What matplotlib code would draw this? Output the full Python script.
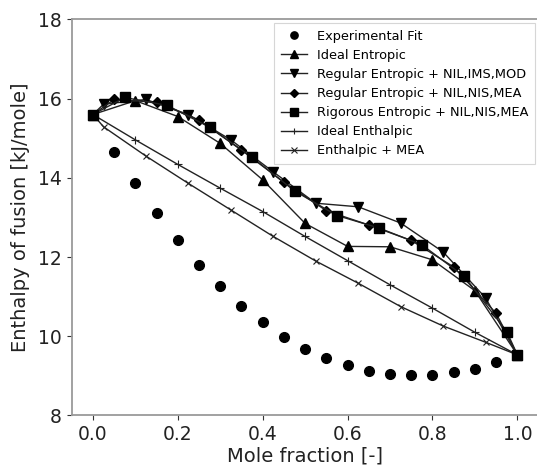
import matplotlib
matplotlib.use("Agg")
import matplotlib.pyplot as plt

# Experimental fit
x_exp = [0.05, 0.10, 0.15, 0.20, 0.25, 0.30, 0.35, 0.40, 0.45, 0.50,
         0.55, 0.60, 0.65, 0.70, 0.75, 0.80, 0.85, 0.90, 0.95]
y_exp = [14.66, 13.86, 13.12, 12.43, 11.81, 11.27, 10.77, 10.36, 9.99, 9.69,
         9.46, 9.28, 9.13, 9.04, 9.02, 9.02, 9.09, 9.18, 9.35]

# Ideal entropic
x_ie = [0.0, 0.1, 0.2, 0.3, 0.4, 0.5, 0.6, 0.7, 0.8, 0.9, 1.0]
y_ie = [15.60, 15.95, 15.55, 14.87, 13.95, 12.85, 12.27, 12.26, 11.93, 11.15, 9.53]

# Regular entropic + NIL,IMS,MOD
x_re1 = [0.0, 0.025, 0.125, 0.225, 0.325, 0.425, 0.525, 0.625, 0.725, 0.825, 0.925, 1.0]
y_re1 = [15.60, 15.86, 15.98, 15.60, 14.96, 14.15, 13.36, 13.27, 12.86, 12.13, 10.97, 9.53]

# Regular entropic + NIL,NIS,MEA
x_re2 = [0.0, 0.05, 0.15, 0.25, 0.35, 0.45, 0.55, 0.65, 0.75, 0.85, 0.95, 1.0]
y_re2 = [15.60, 15.98, 15.91, 15.46, 14.70, 13.89, 13.17, 12.81, 12.42, 11.75, 10.58, 9.53]

# Rigorous entropic + NIL,NIS,MEA
x_rig = [0.0, 0.075, 0.175, 0.275, 0.375, 0.475, 0.575, 0.675, 0.775, 0.875, 0.975, 1.0]
y_rig = [15.60, 16.03, 15.83, 15.28, 14.52, 13.67, 13.05, 12.73, 12.31, 11.51, 10.12, 9.53]

# Ideal enthalpic
x_ih = [0.0, 0.1, 0.2, 0.3, 0.4, 0.5, 0.6, 0.7, 0.8, 0.9, 1.0]
y_ih = [15.60, 14.96, 14.34, 13.74, 13.15, 12.52, 11.91, 11.30, 10.71, 10.10, 9.53]

# Enthalpic + MEA
x_em = [0.0, 0.025, 0.125, 0.225, 0.325, 0.425, 0.525, 0.625, 0.725, 0.825, 0.925, 1.0]
y_em = [15.60, 15.29, 14.55, 13.86, 13.19, 12.52, 11.90, 11.34, 10.75, 10.26, 9.85, 9.53]

x_ticks = [0.0, 0.2, 0.4, 0.6, 0.8, 1.0]
y_ticks = [8, 10, 12, 14, 16, 18]

fig = plt.figure(figsize=(5.37, 4.66), dpi=100)
ax = fig.add_axes([0.1335, 0.1084, 0.8695, 0.8498])

lc = "#222222"
lw = 1.0
inner = slice(1, -1)

ax.plot(x_exp, y_exp, linestyle="none", marker="o", color="black",
        markersize=7, label="Experimental Fit", zorder=3)
ax.plot(x_ie, y_ie, color=lc, lw=lw, marker="^", markersize=7.5,
        markerfacecolor="black", markeredgecolor="black",
        label="Ideal Entropic", zorder=2)
ax.plot(x_re1, y_re1, color=lc, lw=lw, marker="v", markersize=7.5,
        markevery=inner, markerfacecolor="black", markeredgecolor="black",
        label="Regular Entropic + NIL,IMS,MOD", zorder=2)
ax.plot(x_re2, y_re2, color=lc, lw=lw, marker="D", markersize=5.5,
        markevery=inner, markerfacecolor="black", markeredgecolor="black",
        label="Regular Entropic + NIL,NIS,MEA", zorder=2)
ax.plot(x_rig, y_rig, color=lc, lw=lw, marker="s", markersize=7.5,
        markerfacecolor="black", markeredgecolor="black",
        label="Rigorous Entropic + NIL,NIS,MEA", zorder=4)
ax.plot(x_ih, y_ih, color=lc, lw=lw, marker="+", markersize=6,
        markeredgewidth=0.8, label="Ideal Enthalpic", zorder=1)
ax.plot(x_em, y_em, color=lc, lw=lw, marker="x", markersize=5,
        markevery=inner, markeredgewidth=0.8,
        label="Enthalpic + MEA", zorder=1)

ax.set_xlim(-0.05, 1.05)
ax.set_ylim(8, 18)
ax.set_xticks(x_ticks)
ax.set_yticks(y_ticks)
ax.tick_params(labelsize=13.5, colors="#333333", length=3.5, width=0.8)
for lab in ax.get_xticklabels() + ax.get_yticklabels():
    lab.set_color("#222222")
for sp in ax.spines.values():
    sp.set_color("#9a9a9a")
    sp.set_linewidth(1.3)

ax.set_xlabel("Mole fraction [-]", fontsize=14, color="#222222", labelpad=2)
ax.set_ylabel("Enthalpy of fusion [kJ/mole]", fontsize=14, color="#222222", labelpad=6)

leg = ax.legend(loc="upper right", fontsize=9.3, frameon=True, fancybox=False,
                borderaxespad=0.25, labelspacing=0.47, handlelength=2.0,
                handletextpad=0.8, borderpad=0.55, markerscale=0.75)
leg.get_frame().set_edgecolor("#cccccc")
leg.get_frame().set_linewidth(0.8)

fig.savefig("out.png", dpi=100)
